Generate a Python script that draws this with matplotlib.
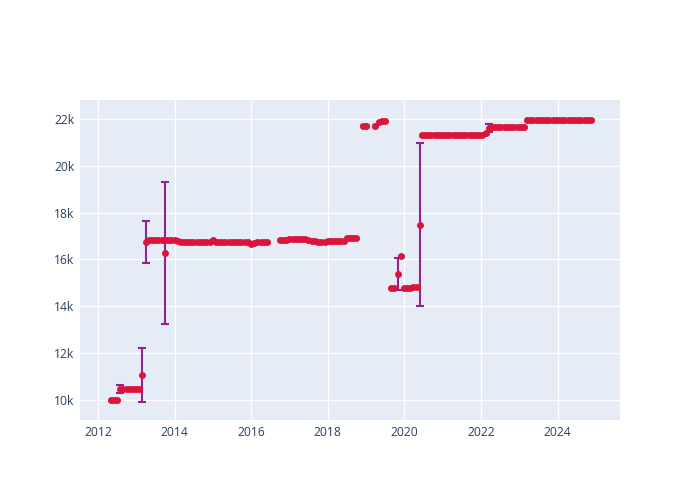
import datetime as dt
import matplotlib
matplotlib.use("Agg")
import matplotlib.pyplot as plt
import matplotlib.dates as mdates
from matplotlib.ticker import FuncFormatter, MultipleLocator
import pandas as pd

# monthly segments: (first reading, values)
segments = [
    ("2012-05-01", [10000, 10000, 10000]),
    ("2012-08-01", [10480, 10480, 10480, 10480, 10480, 10480, 10480, 11070]),
    ("2013-04-01", [16750, 16850, 16850, 16850, 16850, 16850, 16850, 16850, 16850, 16850,
                    16800, 16760, 16760, 16760, 16760, 16760, 16760, 16760, 16760, 16760,
                    16760, 16840, 16740, 16740, 16740, 16740, 16740, 16740, 16740, 16740,
                    16740, 16740, 16740, 16680, 16700, 16750, 16750, 16750, 16750]),
    ("2016-10-01", [16820, 16820, 16840, 16860, 16880, 16890, 16880, 16860, 16870, 16820,
                    16800, 16780, 16760, 16730, 16750, 16770, 16770, 16780, 16770, 16770,
                    16780, 16900, 16920, 16920, 16920]),
    ("2018-12-01", [21720, 21720]),
    ("2019-04-01", [21720, 21860, 21910, 21920]),
    ("2019-08-28", [14800, 14800, 15390, 16140, 14780, 14790, 14800, 14810, 14820, 17490]),
    ("2020-06-15", [21300, 21300, 21300, 21300, 21300, 21300, 21300, 21300, 21300, 21300,
                    21300, 21300, 21300, 21300, 21300, 21300, 21300, 21300, 21310, 21330,
                    21390, 21600, 21640, 21650, 21650, 21650, 21650, 21650, 21650, 21650,
                    21650, 21660, 21660, 21960, 21960, 21960, 21960, 21960, 21960, 21960,
                    21960, 21960, 21960, 21960, 21960, 21960, 21960, 21960, 21960, 21960,
                    21960, 21960, 21960, 21960]),
]
# extra reading in the same month as another one
extra_dates = ["2013-10-01"]
extra_values = [16270]
extra_errs = [3030]

small_err = 45
big_err = {
    "2012-08-01": 170,
    "2013-03-01": 1150,
    "2013-04-01": 880,
    "2019-10-28": 680,
    "2020-05-28": 3490,
    "2022-03-15": 170,
}

dates, values = [], []
for start, vals in segments:
    dates += list(pd.date_range(start, periods=len(vals), freq=pd.DateOffset(months=1)))
    values += vals

big_d, big_v, big_e = [], [], []
small_d, small_v = [], []
for d, v in zip(dates, values):
    key = d.strftime("%Y-%m-%d")
    if key in big_err:
        big_d.append(d)
        big_v.append(v)
        big_e.append(big_err[key])
    else:
        small_d.append(d)
        small_v.append(v)
big_d += list(pd.to_datetime(extra_dates))
big_v += extra_values
big_e += extra_errs

plt.rcParams["font.family"] = ["Open Sans", "DejaVu Sans"]

fig = plt.figure(figsize=(7, 5), dpi=100)
ax = fig.add_axes([80 / 700, 80 / 500, 540 / 700, 320 / 500])
ax.set_facecolor("#E5ECF6")

err_col = "#8E2490"
ax.errorbar(small_d, small_v, yerr=small_err, fmt="none", ecolor=err_col,
            elinewidth=1, capsize=2.4, capthick=1, zorder=2)
ax.errorbar(big_d, big_v, yerr=big_e, fmt="none", ecolor=err_col,
            elinewidth=1.5, capsize=2.6, capthick=1.5, zorder=2)
ax.plot(dates + big_d[-1:], values + big_v[-1:], "o", color="#DC143C",
        markersize=5, markeredgewidth=0, zorder=3)

ax.set_xlim(dt.datetime(2011, 7, 15), dt.datetime(2025, 8, 18))
ax.set_ylim(9146, 22811)
ax.xaxis.set_major_locator(mdates.YearLocator(2))
ax.xaxis.set_major_formatter(mdates.DateFormatter("%Y"))
ax.yaxis.set_major_locator(MultipleLocator(2000))
ax.yaxis.set_major_formatter(FuncFormatter(lambda v, p: f"{int(v / 1000)}k"))

ax.grid(True, color="white", linewidth=1)
ax.set_axisbelow(True)
for s in ax.spines.values():
    s.set_visible(False)
ax.tick_params(length=0, labelsize=8.7, colors="#2A3F5F", pad=4)

fig.savefig("out.png")
